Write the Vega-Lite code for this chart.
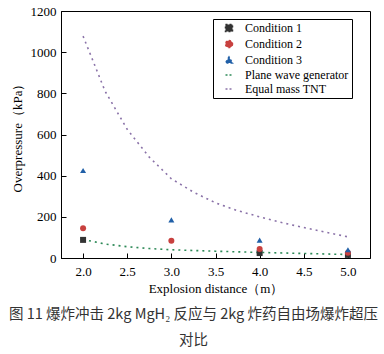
{
  "$schema": "https://vega.github.io/schema/vega-lite/v6.json",
  "autosize": {"type": "none"},
  "width": 309,
  "height": 247,
  "padding": {"left": 61, "top": 11, "right": 14, "bottom": 96},
  "background": "white",
  "config": {"view": {"stroke": "black", "strokeWidth": 1}},
  "title": {
    "text": ["图 11  爆炸冲击 2kg MgH₂ 反应与 2kg  炸药自由场爆炸超压", "对比"],
    "orient": "bottom",
    "anchor": "middle",
    "font": "Noto Sans CJK SC",
    "fontSize": 14.5,
    "fontWeight": "normal",
    "color": "#333333",
    "lineHeight": 26,
    "offset": 13,
    "dx": -22
  },
  "datasets": {
    "pts": [
      {"series": "Condition 1", "d": 2.0, "p": 88},
      {"series": "Condition 1", "d": 4.0, "p": 24},
      {"series": "Condition 1", "d": 5.0, "p": 15},
      {"series": "Condition 2", "d": 2.0, "p": 145},
      {"series": "Condition 2", "d": 3.0, "p": 84},
      {"series": "Condition 2", "d": 4.0, "p": 44},
      {"series": "Condition 2", "d": 5.0, "p": 25},
      {"series": "Condition 3", "d": 2.0, "p": 425},
      {"series": "Condition 3", "d": 3.0, "p": 185},
      {"series": "Condition 3", "d": 4.0, "p": 87},
      {"series": "Condition 3", "d": 5.0, "p": 40}
    ],
    "curves": [
      {"series": "Plane wave generator", "d": 2.0, "p": 90},
      {"series": "Plane wave generator", "d": 2.25, "p": 68},
      {"series": "Plane wave generator", "d": 2.5, "p": 55},
      {"series": "Plane wave generator", "d": 2.75, "p": 46},
      {"series": "Plane wave generator", "d": 3.0, "p": 40},
      {"series": "Plane wave generator", "d": 3.5, "p": 33},
      {"series": "Plane wave generator", "d": 4.0, "p": 27},
      {"series": "Plane wave generator", "d": 4.5, "p": 22},
      {"series": "Plane wave generator", "d": 5.0, "p": 17},
      {"series": "Equal mass TNT", "d": 2.0, "p": 1078},
      {"series": "Equal mass TNT", "d": 2.25, "p": 810},
      {"series": "Equal mass TNT", "d": 2.5, "p": 625},
      {"series": "Equal mass TNT", "d": 2.75, "p": 490},
      {"series": "Equal mass TNT", "d": 3.0, "p": 385},
      {"series": "Equal mass TNT", "d": 3.25, "p": 320},
      {"series": "Equal mass TNT", "d": 3.5, "p": 268},
      {"series": "Equal mass TNT", "d": 3.75, "p": 230},
      {"series": "Equal mass TNT", "d": 4.0, "p": 200},
      {"series": "Equal mass TNT", "d": 4.25, "p": 172},
      {"series": "Equal mass TNT", "d": 4.5, "p": 148},
      {"series": "Equal mass TNT", "d": 4.75, "p": 125},
      {"series": "Equal mass TNT", "d": 5.0, "p": 103}
    ]
  },
  "layer": [
    {
      "data": {"name": "curves"},
      "mark": {"type": "line", "strokeDash": [2, 4], "strokeWidth": 1.6},
      "encoding": {
        "x": {"field": "d", "type": "quantitative", "scale": {"domain": [1.75, 5.25], "nice": false, "zero": false},
          "axis": {"orient": "bottom", "values": [2, 2.5, 3, 3.5, 4, 4.5, 5], "format": ".1f", "tickSize": -5, "labelPadding": 12, "title": "Explosion distance（m）", "titlePadding": 4, "grid": false, "domainColor": "black", "tickColor": "black", "labelColor": "black", "titleColor": "black", "labelFont": "Liberation Serif", "titleFont": "Liberation Serif", "labelFontSize": 13, "titleFontSize": 13, "titleFontWeight": "normal"}},
        "y": {"field": "p", "type": "quantitative", "scale": {"domain": [0, 1200], "nice": false},
          "axis": {"orient": "left", "values": [0, 200, 400, 600, 800, 1000, 1200], "format": "d", "tickSize": -5, "labelPadding": 10, "title": "Overpressure（kPa）", "titlePadding": 6, "grid": false, "domainColor": "black", "tickColor": "black", "labelColor": "black", "titleColor": "black", "labelFont": "Liberation Serif", "titleFont": "Liberation Serif", "labelFontSize": 13, "titleFontSize": 13, "titleFontWeight": "normal"}},
        "detail": {"field": "series"},
        "color": {"field": "series", "type": "nominal"}
      }
    },
    {
      "data": {"name": "pts"},
      "mark": {"type": "point", "filled": true, "opacity": 1, "size": 36},
      "encoding": {
        "x": {"field": "d", "type": "quantitative"},
        "y": {"field": "p", "type": "quantitative"},
        "color": {"field": "series", "type": "nominal",
          "scale": {"domain": ["Condition 1", "Condition 2", "Condition 3", "Plane wave generator", "Equal mass TNT"], "range": ["#333333", "#c8413f", "#2160a8", "#2e8a58", "#8a72a8"]},
          "legend": {"orient": "none", "legendX": 152, "legendY": 8, "title": null, "strokeColor": "black", "fillColor": "white", "padding": 3, "labelFont": "Liberation Serif", "labelFontSize": 12, "labelColor": "black", "symbolSize": 49, "symbolDash": [2, 2], "symbolStrokeWidth": 1.5, "symbolOffset": 7, "labelOffset": 10, "rowPadding": 2}
        },
        "shape": {"field": "series", "type": "nominal",
          "scale": {"domain": ["Condition 1", "Condition 2", "Condition 3", "Plane wave generator", "Equal mass TNT"], "range": ["square", "circle", "triangle-up", "stroke", "stroke"]},
          "legend": {"orient": "none", "legendX": 152, "legendY": 8, "title": null, "symbolSize": 49}
        }
      }
    }
  ]
}
